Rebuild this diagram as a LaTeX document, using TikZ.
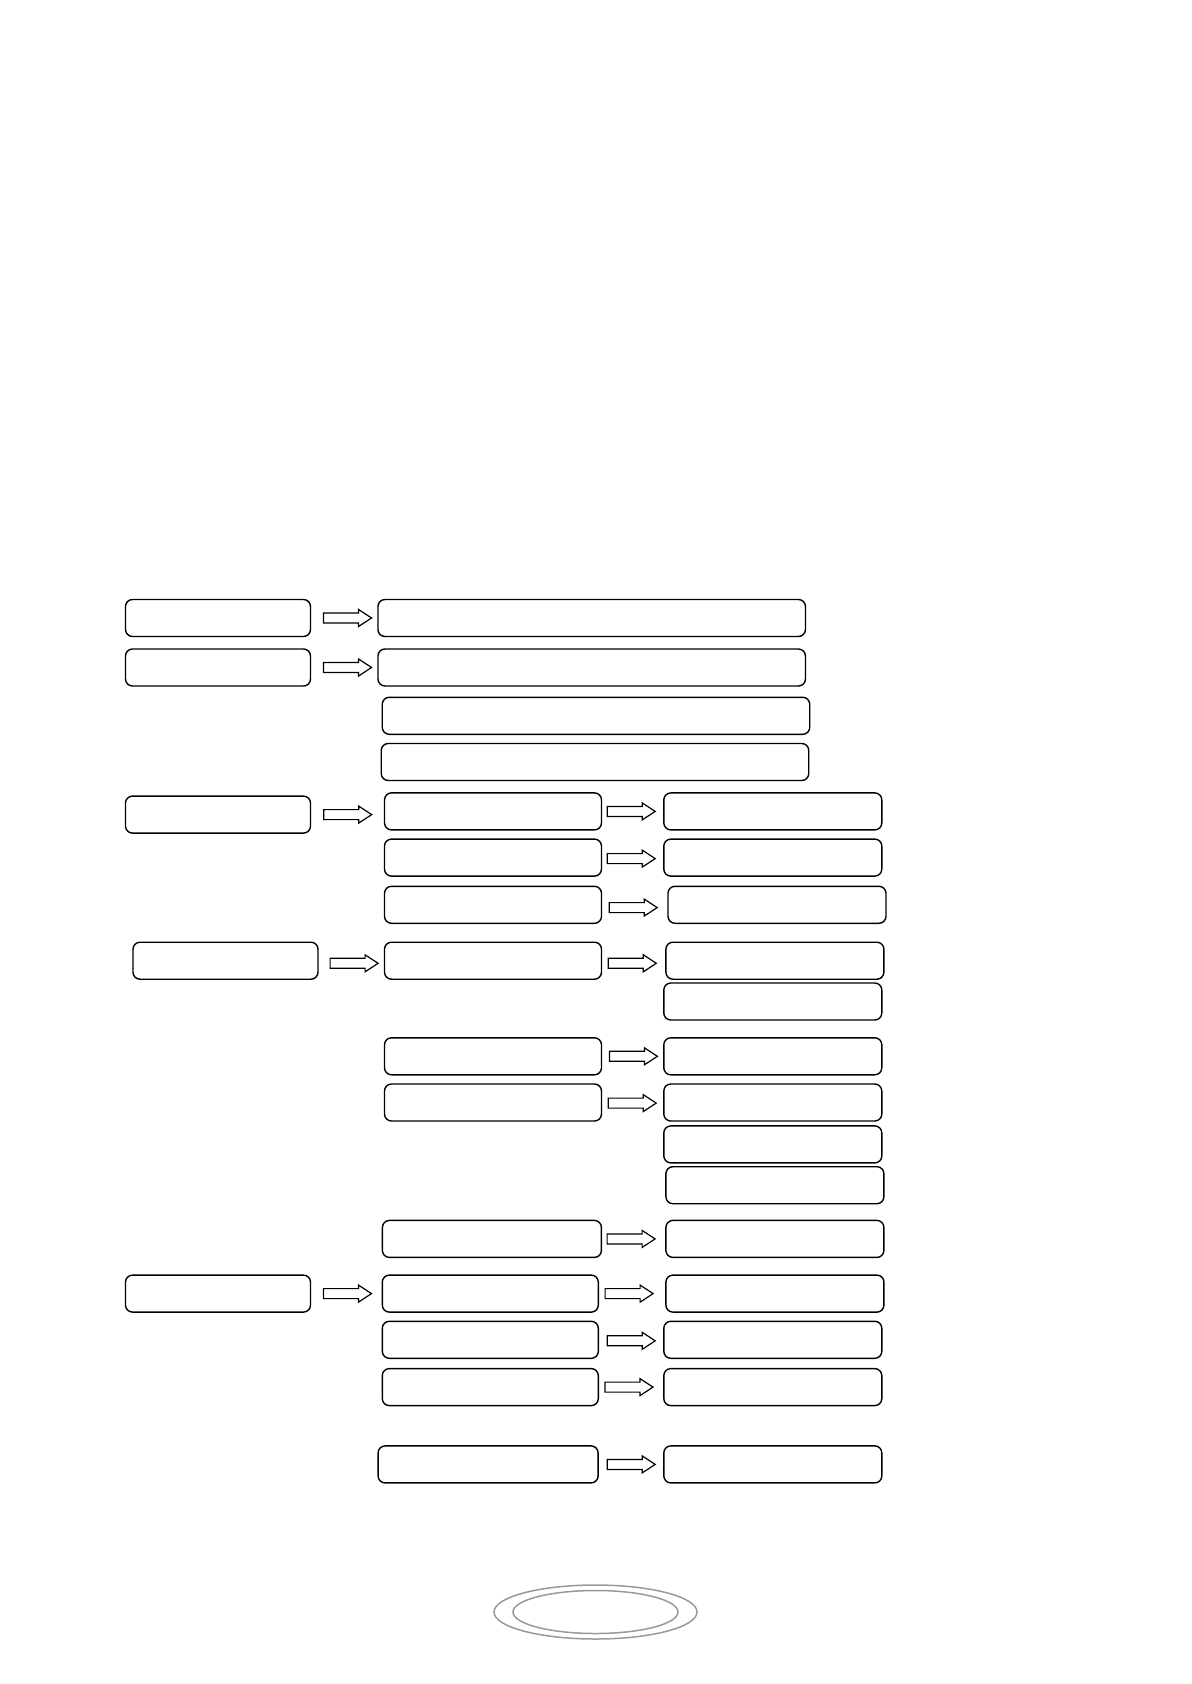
\documentclass[tikz,border=0pt]{standalone}
\usetikzlibrary{calc,shapes.geometric}
\tikzset{
  box/.style={draw, rounded corners=3.5pt, line width=0.7pt, inner sep=0pt, outer sep=0pt, minimum height=18.5pt},
  lbox/.style={box, minimum width=92.5pt},
  wbox/.style={box, minimum width=213.75pt},
  mbox/.style={box, minimum width=108.5pt},
  rbox/.style={box, minimum width=109pt},
  harrowstyle/.style={draw, fill=white, line width=0.6pt, line join=miter},
  ring/.style={draw=black!40, line width=0.75pt}
}
% \harrow{from}{to}{gap before target (pt)}{vertical offset (pt, downward)}
\newcommand\harrow[4]{%
  \draw[harrowstyle] let \p1=(#1.east), \p2=(#2.west), \n1={#3}, \n2={#4} in
    (\x2-\n1-24pt,\y1-\n2+2.5pt) -- (\x2-\n1-6.5pt,\y1-\n2+2.5pt) -- (\x2-\n1-6.5pt,\y1-\n2+4.25pt) --
    (\x2-\n1,\y1-\n2) -- (\x2-\n1-6.5pt,\y1-\n2-4.25pt) -- (\x2-\n1-6.5pt,\y1-\n2-2.5pt) --
    (\x2-\n1-24pt,\y1-\n2-2.5pt) -- cycle;}
\begin{document}
\begin{tikzpicture}[x=0.5pt,y=-0.5pt]
\useasboundingbox (0,0) rectangle (1191,1684);
% row 1-4
\node[lbox] (l1) at (218,618) {};
\node[wbox] (w1) at (591.7,618) {};
\node[lbox] (l2) at (218,667.5) {};
\node[wbox] (w2) at (591.7,667.5) {};
\node[wbox] (w3) at (596,715.8) {};
\node[wbox] (w4) at (595,762) {};
% group 3
\node[lbox] (l3) at (218,814.6) {};
\node[mbox] (m1) at (493,811.4) {};
\node[rbox] (r1) at (772.8,811.4) {};
\node[mbox] (m2) at (493,857.6) {};
\node[rbox] (r2) at (772.8,857.6) {};
\node[mbox] (m3) at (493,904.8) {};
\node[rbox] (r3) at (777,904.8) {};
% group 4
\node[lbox] (l4) at (225.5,960.7) {};
\node[mbox] (m4) at (493,960.7) {};
\node[rbox] (r4) at (774.9,960.7) {};
\node[rbox] (r5) at (772.8,1001.5) {};
\node[mbox] (m5) at (493,1056.3) {};
\node[rbox] (r6) at (772.8,1056.3) {};
\node[mbox] (m6) at (493,1102.5) {};
\node[rbox] (r7) at (772.8,1102.5) {};
\node[rbox] (r8) at (772.8,1144.4) {};
\node[rbox] (r9) at (774.9,1185.2) {};
% group 5
\node[box, minimum width=109.5pt] (m7) at (491.9,1238.9) {};
\node[rbox] (r10) at (774.9,1238.9) {};
\node[lbox] (l5) at (218,1293.6) {};
\node[box, minimum width=108pt] (m8) at (490.3,1293.6) {};
\node[rbox] (r11) at (774.9,1293.6) {};
\node[box, minimum width=108pt] (m9) at (490.3,1339.8) {};
\node[rbox] (r12) at (772.8,1339.8) {};
\node[box, minimum width=108pt] (m10) at (490.3,1387.1) {};
\node[rbox] (r13) at (772.8,1387.1) {};
\node[box, minimum width=110pt] (m11) at (488.1,1464.4) {};
\node[rbox] (r14) at (772.8,1464.4) {};
% arrows
\harrow{l1}{w1}{3.2pt}{0pt}
\harrow{l2}{w2}{3.2pt}{0pt}
\harrow{l3}{m1}{6.4pt}{0pt}
\harrow{m1}{r1}{4.3pt}{0pt}
\harrow{m2}{r2}{4.3pt}{0.5pt}
\harrow{m3}{r3}{5.4pt}{1.4pt}
\harrow{l4}{m4}{3.2pt}{1.3pt}
\harrow{m4}{r4}{4.8pt}{1.3pt}
\harrow{m5}{r6}{3.2pt}{0pt}
\harrow{m6}{r7}{3.8pt}{0.3pt}
\harrow{m7}{r10}{5.4pt}{0pt}
\harrow{l5}{m8}{5.4pt}{0pt}
\harrow{m8}{r11}{6.4pt}{0pt}
\harrow{m9}{r12}{4.3pt}{0.5pt}
\harrow{m10}{r13}{5.4pt}{0pt}
\harrow{m11}{r14}{4.3pt}{0pt}
% page ornament
\node[ring, ellipse, inner sep=0pt, minimum width=101.5pt, minimum height=27pt] (ringout) at (595.5,1612) {};
\draw[ring] (ringout.center) ellipse [x radius=82.5, y radius=21.5];
\end{tikzpicture}
\end{document}
